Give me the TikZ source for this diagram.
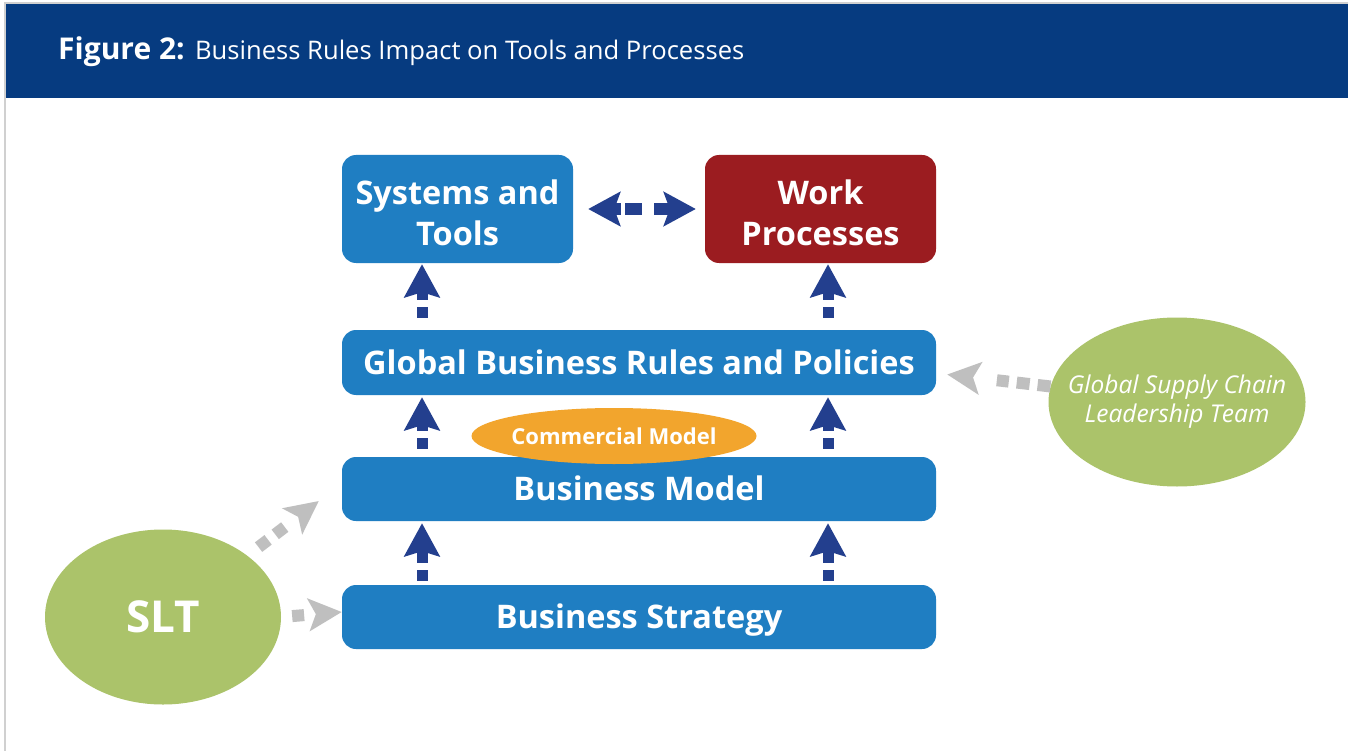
\documentclass[tikz,border=0pt]{standalone}
\usepackage{fontspec}
\setmainfont{Open Sans}
\usetikzlibrary{arrows.meta,shapes.geometric}

\definecolor{headblue}{HTML}{063B80}
\definecolor{boxblue}{HTML}{1F7EC2}
\definecolor{boxred}{HTML}{9B1C20}
\definecolor{leafgreen}{HTML}{ABC36A}
\definecolor{amber}{HTML}{F2A52D}
\definecolor{arrowblue}{HTML}{233F8E}
\definecolor{softgray}{HTML}{BFBFBF}
\definecolor{framegray}{HTML}{D0D0D0}

\tikzset{
  stepbox/.style={fill=#1, draw=none, rounded corners=14pt, inner sep=0pt,
    text=white, align=center, font=\fontsize{32.5}{40}\selectfont\bfseries},
  oneline/.style={text height=23pt, text depth=0pt},
  twoline/.style={text height=72pt, text depth=0pt},
  bluelink/.style={draw=arrowblue, line width=11pt,
    -{Stealth[length=33pt,width=35pt,inset=5pt]}},
  graylink/.style={draw=softgray, line width=12pt,
    -{Stealth[length=33pt,width=32pt,inset=7pt]}},
  oval/.style={ellipse, fill=#1, draw=none, inner xsep=-40pt, inner ysep=-5pt, text=white}
}

\begin{document}
\begin{tikzpicture}[x=1pt,y=-1pt]
  \useasboundingbox (0,0) rectangle (1348,751);
  \fill[white] (0,0) rectangle (1348,751);

  % frame lines and title band
  \draw[framegray, line width=1.5pt] (5,751) -- (5,3) -- (1348,3);
  \fill[headblue] (6,4) rectangle (1348,98);
  \node[anchor=base west, inner sep=0pt, text=white] (title) at (58,60)
    {\fontsize{30}{34}\selectfont\textbf{Figure 2:} \fontsize{25.6}{30}\selectfont Business Rules Impact on Tools and Processes};

  % process boxes
  \node[stepbox=boxblue, twoline, minimum width=231pt, minimum height=108pt] (st) at (457.5,209) {Systems and\\Tools};
  \node[stepbox=boxred, twoline, minimum width=231pt, minimum height=108pt] (wp) at (820.5,209) {Work\\Processes};
  \node[stepbox=boxblue, oneline, minimum width=594pt, minimum height=65pt] (gbr) at (639,362.5) {Global Business Rules and Policies};
  \node[stepbox=boxblue, oneline, minimum width=594pt, minimum height=64pt] (bm) at (639,489) {Business Model};
  \node[stepbox=boxblue, oneline, minimum width=594pt, minimum height=64pt] (bs) at (639,617) {Business Strategy};

  % ovals
  \node[oval=amber, minimum width=285pt, minimum height=56pt,
        font=\fontsize{22}{26}\selectfont\bfseries] (cm) at (614,436) {Commercial Model};
  \node[oval=leafgreen, minimum width=257pt, minimum height=169pt, align=center,
        font=\fontsize{24.5}{29}\selectfont\itshape] (gsc) at (1177,402) {Global Supply Chain\\Leadership Team};
  \node[oval=leafgreen, minimum width=236pt, minimum height=175pt,
        font=\fontsize{44}{50}\selectfont\bfseries] (slt) at (163,617) {SLT};

  % arrow columns
  \coordinate (colL) at (422,0);
  \coordinate (colR) at (828,0);

  % upward links
  \foreach \c in {colL,colR}{
    \draw[bluelink, dash pattern=on 11pt off 7pt on 60pt, shorten <=12pt, shorten >=1pt]
      (gbr.north -| \c) -- (st.south -| \c);
    \draw[bluelink, dash pattern=on 11pt off 7pt on 60pt, shorten <=8pt, shorten >=2pt]
      (bm.north -| \c) -- (gbr.south -| \c);
    \draw[bluelink, dash pattern=on 11pt off 7pt on 60pt, shorten <=4pt, shorten >=2pt]
      (bs.north -| \c) -- (bm.south -| \c);
  }

  % two-way link between the top boxes
  \draw[draw=arrowblue, line width=12pt,
        {Stealth[length=32pt,width=34pt,inset=6pt]}-{Stealth[length=32pt,width=34pt,inset=6pt]},
        dash pattern=on 9pt off 4pt on 17pt off 12pt on 40pt,
        shorten <=15pt, shorten >=9pt]
    (st.east) -- (wp.west);

  % influence links from the leadership ovals
  \coordinate (gbrIn) at ([shift={(11,12)}]gbr.east);
  \draw[graylink, dash pattern=on 13pt off 8pt on 13pt off 8pt on 12pt off 40pt]
    (gsc.173) -- (gbrIn);

  \coordinate (bsIn) at ([shift={(0,-5)}]bs.west);
  \draw[graylink, dash pattern=on 12pt off 40pt, shorten <=11pt]
    (slt.east) -- (bsIn);

  \coordinate (bmIn) at ([shift={(-23,12)}]bm.west);
  \draw[graylink, dash pattern=on 12pt off 9pt on 12pt off 40pt, shorten <=14pt]
    (slt.36) -- (bmIn);
\end{tikzpicture}
\end{document}
